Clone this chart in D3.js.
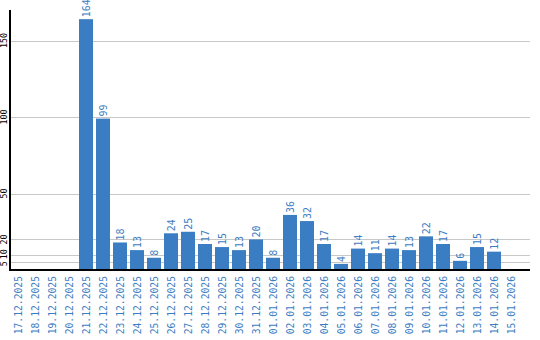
<!DOCTYPE html>
<html>
<head>
<meta charset="utf-8">
<script src="https://cdn.jsdelivr.net/npm/d3@7"></script>
<style>
	body { margin: 0; background: #fff; }
	.grid { stroke: #c8c8c8; stroke-width: 1; }
	.axis { stroke: #000; stroke-width: 2; }
	.bar { fill: #3b7dc3; }
	.val { fill: #3b7dc3; font-family: "DejaVu Sans Mono", monospace; font-size: 10px; }
	.xlab { fill: #3b7dc3; font-family: "DejaVu Sans Mono", monospace; font-size: 9.7px; }
	.ylab { fill: #000; font-family: "DejaVu Sans Mono", monospace; font-size: 8.3px; }
</style>
</head>
<body>
<script>
//chart data
var dates = ["17.12.2025","18.12.2025","19.12.2025","20.12.2025","21.12.2025","22.12.2025",
	"23.12.2025","24.12.2025","25.12.2025","26.12.2025","27.12.2025","28.12.2025",
	"29.12.2025","30.12.2025","31.12.2025","01.01.2026","02.01.2026","03.01.2026",
	"04.01.2026","05.01.2026","06.01.2026","07.01.2026","08.01.2026","09.01.2026",
	"10.01.2026","11.01.2026","12.01.2026","13.01.2026","14.01.2026","15.01.2026"];
var counts = [null, null, null, null, 164, 99,
	18, 13, 8, 24, 25, 17,
	15, 13, 20, 8, 36, 32,
	17, 4, 14, 11, 14, 13,
	22, 17, 6, 15, 12, null];
var yTicks = [5, 10, 20, 50, 100, 150];

window.onload = drawChart();

function drawChart(){
	var width = 540,
		height = 340;

	var svg = d3.select("body")
		.append("svg")
		.attr("width", width)
		.attr("height", height);

	//scales
	var y = d3.scaleLinear()
		.domain([0, 170])
		.range([270, 10]);

	var x = d3.scaleBand()
		.domain(dates)
		.range([11, 518])
		.paddingInner(3 / 17)
		.paddingOuter(0);

	//gridlines
	svg.selectAll(".grid")
		.data(yTicks)
		.enter()
		.append("line")
		.attr("class", "grid")
		.attr("x1", 11)
		.attr("x2", 530)
		.attr("y1", function(d){ return Math.round(y(d)) + 0.5; })
		.attr("y2", function(d){ return Math.round(y(d)) + 0.5; });

	//y tick labels, rotated (small nudge so 5 and 10 do not touch)
	svg.selectAll(".ylab")
		.data(yTicks)
		.enter()
		.append("text")
		.attr("class", "ylab")
		.attr("text-anchor", "middle")
		.attr("transform", function(d){
			return "translate(7," + (y(d) + (d == 5 ? 1.5 : d == 10 ? -0.5 : 0)) + ") rotate(-90)";
		})
		.text(function(d){ return d; });

	var data = dates.map(function(d, i){ return {date: d, value: counts[i]}; })
		.filter(function(d){ return d.value != null; });

	//bars
	svg.selectAll(".bar")
		.data(data)
		.enter()
		.append("rect")
		.attr("class", "bar")
		.attr("x", function(d){ return x(d.date); })
		.attr("width", x.bandwidth())
		.attr("y", function(d){ return y(d.value); })
		.attr("height", function(d){ return y(0) - y(d.value); });

	//value labels
	svg.selectAll(".val")
		.data(data)
		.enter()
		.append("text")
		.attr("class", "val")
		.attr("transform", function(d){
			return "translate(" + (x(d.date) + x.bandwidth() / 2 + 4) + "," + (y(d.value) - 2) + ") rotate(-90)";
		})
		.text(function(d){ return d.value; });

	//x labels
	svg.selectAll(".xlab")
		.data(dates)
		.enter()
		.append("text")
		.attr("class", "xlab")
		.attr("text-anchor", "end")
		.attr("transform", function(d){
			return "translate(" + (x(d) + x.bandwidth() / 2 + 3.5) + ",276) rotate(-90)";
		})
		.text(function(d){ return d; });

	//axes lines
	svg.append("line")
		.attr("class", "axis")
		.attr("x1", 10).attr("x2", 10)
		.attr("y1", 10).attr("y2", 271);
	svg.append("line")
		.attr("class", "axis")
		.attr("x1", 9).attr("x2", 530)
		.attr("y1", 270).attr("y2", 270);
};
</script>
</body>
</html>
